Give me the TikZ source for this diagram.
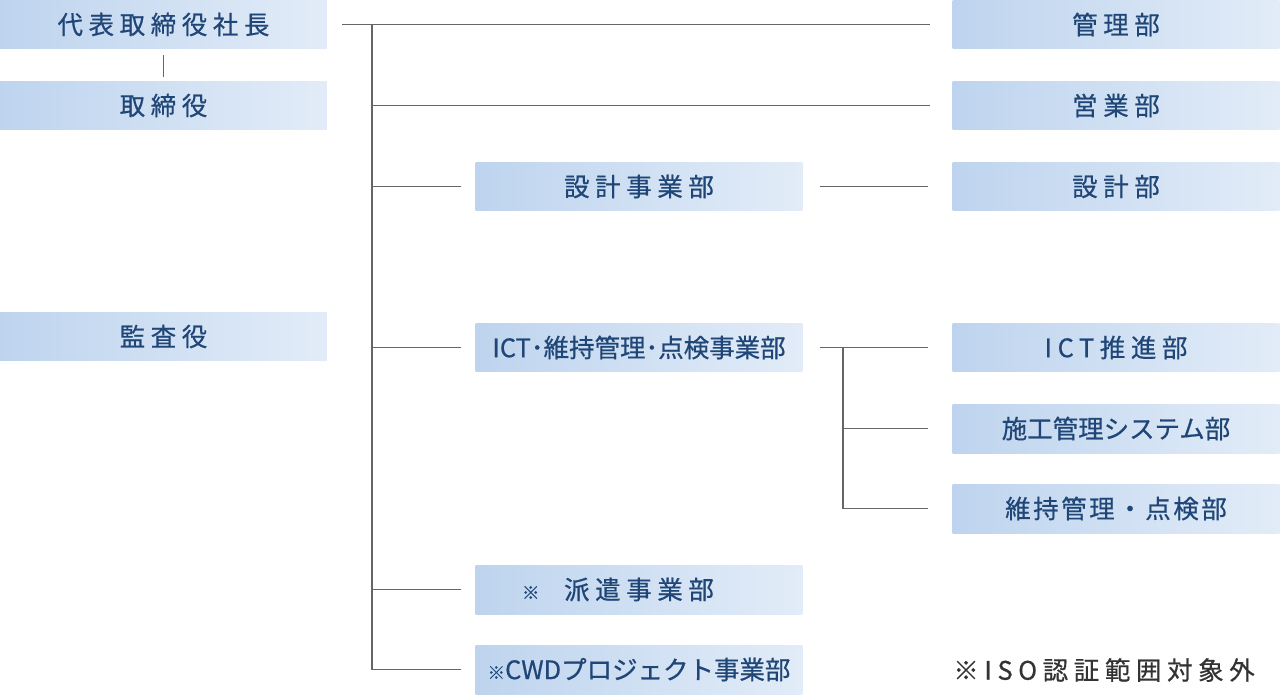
\documentclass[tikz,border=0pt]{standalone}
\usepackage{fontspec}
\newfontfamily\jpwide[LetterSpace=22,FakeBold=0.6]{Noto Sans CJK JP}
\newfontfamily\jpmid[LetterSpace=10,FakeBold=0.6]{Noto Sans CJK JP}
\newfontfamily\jptight[FakeBold=0.6]{Noto Sans CJK JP}
\definecolor{boxL}{HTML}{BED4EE}
\definecolor{boxR}{HTML}{E2ECF8}
\definecolor{textBlue}{HTML}{1F4677}
\definecolor{lineGray}{HTML}{666666}
\definecolor{noteGray}{HTML}{333333}
\newcommand{\smallmark}{{\fontsize{10}{12}\selectfont ※}}

\tikzset{
  dept/.style={minimum width=6.54cm, minimum height=0.98cm, inner sep=0pt,
    left color=boxL, right color=boxR, text=textBlue,
    font=\fontsize{14.5}{16}\selectfont\jpwide},
  tight/.style={font=\fontsize{14.5}{16}\selectfont\jptight},
  mid/.style={font=\fontsize{14.5}{16}\selectfont\jpmid},
  note/.style={inner sep=0pt, text=noteGray, font=\fontsize{14.5}{16}\selectfont\jpwide},
  link/.style={draw=lineGray, line width=1.1pt},
}

\begin{document}
\begin{tikzpicture}[x=0.02cm, y=-0.02cm]
\useasboundingbox (0,0) rectangle (1280,696);

% left column
\node[dept] (pres) at (163.5,24.5) {代表取締役社長};
\node[dept] (board) at (163.5,105.5) {取締役};
\node[dept] (audit) at (163.5,336.5) {監査役};

% divisions
\node[dept] (designHQ) at (639,186.5) {設計事業部};
\node[dept, tight] (ictHQ) at (639,347.5) {ICT･維持管理･点検事業部};
\node[dept] (dispatch) at (639,589.5) {\llap{\smallmark\hspace{14pt}}派遣事業部};
\node[dept, tight] (cwd) at (639,669.5) {\smallmark CWDプロジェクト事業部};

% departments
\node[dept] (admin) at (1116,24.5) {管理部};
\node[dept] (sales) at (1116,105.5) {営業部};
\node[dept] (design) at (1116,186.5) {設計部};
\node[dept] (ict) at (1116,347.5) {ICT推進部};
\node[dept, tight] (construct) at (1116,428.5) {施工管理システム部};
\node[dept, mid] (maint) at (1116,508.5) {維持管理・点検部};

\node[note] (iso) at (1104,670) {※ISO認証範囲対象外};

% connectors
\coordinate (trunk) at (372,0);
\coordinate (fork) at (843,0);
\draw[link, shorten <=3.5pt, shorten >=2pt] (pres) -- (board);
\draw[link, shorten <=8.5pt, shorten >=12.5pt] (pres) -- (admin);
\draw[link, shorten >=12.5pt] (trunk |- sales) -- (sales);
\draw[link] (trunk |- pres) -- (trunk |- cwd);
\foreach \n in {designHQ, ictHQ, dispatch, cwd}
  \draw[link, shorten >=8pt] (trunk |- \n) -- (\n);
\draw[link, shorten <=10pt, shorten >=13.5pt] (designHQ) -- (design);
\draw[link, shorten <=10pt, shorten >=13.5pt] (ictHQ) -- (ict);
\draw[link] (fork |- ictHQ) -- (fork |- maint);
\foreach \n in {construct, maint}
  \draw[link, shorten >=13.5pt] (fork |- \n) -- (\n);
\end{tikzpicture}
\end{document}
